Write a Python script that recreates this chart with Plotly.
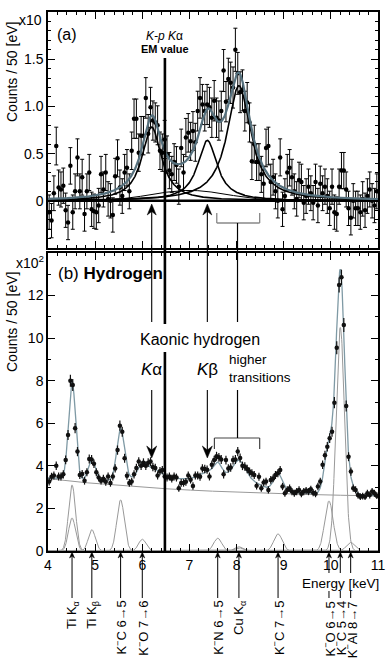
import numpy as np
import plotly.graph_objects as go

# ---------------- data ----------------
bin_start_kev = 4.0
bin_width_kev = 0.05

# panel (a): residual spectrum, counts / 50 eV in units of x10
residual_x10 = [
    -0.12, -0.21, 0.08, 0.58, 0.14, 0.12, 0.16, -0.10, -0.23, 0.37,
    -0.12, 0.10, 0.46, 0.10, 0.25, -0.14, 0.10, 0.30, -0.09, -0.11,
    -0.12, -0.05, 0.28, 0.12, 0.30, 0.02, 0.00, -0.15, 0.26, 0.45,
    0.14, 0.05, 0.30, 0.35, 0.10, 0.53, 0.87, 0.87, 0.51, 0.69,
    0.69, 1.09, 0.71, 0.99, 0.85, 0.83, 0.80, 0.53, 0.51, 0.65,
    0.49, 0.32, 0.28, 0.41, 0.38, 0.15, 0.56, 0.30, 0.67, 0.72,
    0.63, 0.74, 0.62, 0.95, 1.09, 1.02, 0.95, 1.02, 0.99, 0.88,
    1.06, 0.88, 0.85, 0.95, 1.38, 1.05, 1.29, 1.25, 1.20, 1.60,
    1.35, 1.15, 1.17, 0.95, 1.04, 0.83, 0.42, 0.60, 0.41, 0.41,
    0.28, 0.18, 0.56, 0.58, 0.20, 0.25, 0.10, 0.00, 0.46, -0.09,
    0.05, 0.30, 0.35, 0.25, 0.10, 0.02, 0.22, 0.20, -0.02, 0.05,
    0.15, 0.08, -0.02, 0.20, -0.05, 0.18, 0.08, 0.15, 0.05, -0.08,
    0.15, -0.12, -0.14, 0.15, 0.32, 0.32, 0.12, -0.08, -0.18, 0.00,
    -0.08, -0.08, -0.12, 0.02, -0.10, 0.05, 0.12, 0.00, -0.05, 0.10,
]

# panel (b): hydrogen spectrum, counts / 50 eV in units of x10^2
hydrogen_x100 = [
    3.26, 3.49, 3.55, 4.00, 3.50, 3.50, 3.60, 4.28, 5.45, 8.00,
    7.80, 5.77, 4.67, 3.57, 3.62, 3.30, 3.70, 4.32, 4.30, 4.10,
    3.70, 3.45, 3.30, 3.40, 3.25, 3.50, 3.20, 3.50, 3.88, 4.74,
    5.89, 5.60, 4.36, 3.53, 3.20, 3.26, 3.60, 3.90, 4.20, 4.00,
    4.15, 4.00, 4.15, 4.20, 3.95, 3.90, 3.55, 3.75, 3.80, 3.50,
    3.45, 3.50, 3.40, 3.50, 3.45, 2.95, 3.20, 3.20, 3.25, 3.55,
    3.35, 3.05, 3.55, 3.55, 3.49, 3.88, 3.85, 3.82, 3.50, 4.05,
    4.27, 4.45, 4.40, 4.30, 3.60, 4.27, 3.88, 3.92, 4.27, 4.30,
    4.67, 4.37, 4.00, 3.97, 3.85, 3.73, 3.65, 3.57, 3.06, 3.49,
    2.95, 3.22, 3.26, 2.87, 3.34, 3.41, 3.57, 3.65, 3.80, 3.03,
    2.71, 2.87, 2.95, 2.79, 2.71, 2.79, 2.87, 2.69, 2.79, 2.84,
    2.79, 2.90, 2.74, 2.69, 3.03, 3.26, 4.05, 4.50, 4.90, 5.30,
    5.60, 6.97, 9.55, 12.50, 12.86, 10.62, 6.81, 4.43, 3.73, 2.95,
    2.87, 2.63, 2.55, 2.58, 2.55, 2.71, 2.63, 2.79, 2.71, 2.60,
]

# kaonic-hydrogen fit components (Lorentzians)
kp_center_kev = [6.20, 7.38, 8.05]
kp_fwhm_kev = [0.50, 0.50, 0.60]
kp_height_a = [0.78, 0.64, 1.22]     # panel (a), x10
kp_height_b = [0.60, 0.50, 1.00]     # panel (b), x10^2
broad_center_kev = [7.0, 6.5]        # (a), (b)
broad_sigma_kev = [0.80, 1.00]
broad_height = [0.11, 0.30]
em_value_kev = 6.48

# background x-ray lines (Gaussians) and their labels
xray_labels = ["Ti K<sub>α</sub>", "Ti K<sub>β</sub>", "K<sup>−</sup>C 6→5",
               "K<sup>−</sup>O 7→6", "K<sup>−</sup>N 6→5", "Cu K<sub>α</sub>",
               "K<sup>−</sup>C 7→5", "K<sup>−</sup>O 6→5", "K<sup>−</sup>C 5→4",
               "K<sup>−</sup>Al 8→7"]
xray_energy_kev = [4.51, 4.93, 5.54, 6.00, 7.60, 8.05, 8.88, 9.96, 10.20, 10.42]
xray_height_x100 = [3.10, 1.00, 2.40, 0.55, 0.60, 0.20, 0.80, 2.35, 10.50, 0.40]
xray_sigma_kev = [0.075, 0.075, 0.08, 0.08, 0.085, 0.085, 0.09, 0.09, 0.09, 0.09]
extra_center_kev = [4.51, 8.05]
extra_height_x100 = [1.55, 0.15]
extra_sigma_kev = [0.075, 0.10]
bg_params = [2.45, 0.95, 3.6]   # const, amplitude, decay (keV)

# ---------------- geometry helpers ----------------
W, H = 386, 661
ML, MR, MT, MB = 48, 8, 12, 110
PW, PH = W - ML - MR, H - MT - MB
E0, E1 = 4.0, 11.0
KEV_PER_PX = (E1 - E0) / PW


def py(yp):
    return (H - MB - yp) / PH


def px(xp):
    return (xp - ML) / PW


def lor(e, c, fwhm, h):
    return h / (1 + ((e - c) / (fwhm / 2)) ** 2)


def gau(e, c, s, h):
    return h * np.exp(-((e - c) ** 2) / (2 * s ** 2))


n = len(residual_x10)
energy = bin_start_kev + bin_width_kev * (np.arange(n) + 0.5)
res = np.array(residual_x10)
hyd = np.array(hydrogen_x100)
err_a = np.sqrt(3.3 + 1.2 * np.clip(res, 0, None)) / 10
err_b = np.sqrt(hyd * 100) / 100

ec = np.linspace(E0, E1, 1401)
FONT = "Liberation Sans, Arial, sans-serif"

fig = go.Figure()

# ---------- panel (a) ----------
fig.add_trace(go.Scatter(x=energy, y=res, mode="markers",
                         marker=dict(color="black", size=4.5),
                         error_y=dict(type="data", array=err_a, color="black",
                                      thickness=1, width=2),
                         xaxis="x", yaxis="y", showlegend=False))
fig.add_trace(go.Scatter(x=[E0, E1], y=[0, 0], mode="lines",
                         line=dict(color="black", width=2.5),
                         xaxis="x", yaxis="y", showlegend=False))
broad_a = gau(ec, broad_center_kev[0], broad_sigma_kev[0], broad_height[0])
fig.add_trace(go.Scatter(x=ec, y=broad_a, mode="lines",
                         line=dict(color="black", width=1),
                         xaxis="x", yaxis="y", showlegend=False))
total_a = broad_a.copy()
for c, w, h in zip(kp_center_kev, kp_fwhm_kev, kp_height_a):
    comp = lor(ec, c, w, h)
    total_a += comp
    fig.add_trace(go.Scatter(x=ec, y=comp, mode="lines",
                             line=dict(color="black", width=1.6),
                             xaxis="x", yaxis="y", showlegend=False))
fig.add_trace(go.Scatter(x=ec, y=total_a, mode="lines",
                         line=dict(color="#56717e", width=2.2),
                         xaxis="x", yaxis="y", showlegend=False))

# ---------- panel (b) ----------
bg = bg_params[0] + bg_params[1] * np.exp(-(ec - E0) / bg_params[2])
total_b = bg + gau(ec, broad_center_kev[1], broad_sigma_kev[1], broad_height[1])
comps = list(zip(xray_energy_kev, xray_sigma_kev, xray_height_x100)) + \
    list(zip(extra_center_kev, extra_sigma_kev, extra_height_x100))
for c, s, h in comps:
    g = gau(ec, c, s, h)
    total_b = total_b + g
    fig.add_trace(go.Scatter(x=ec, y=g, mode="lines",
                             line=dict(color="#999999", width=1),
                             xaxis="x2", yaxis="y2", showlegend=False))
for c, w, h in zip(kp_center_kev, kp_fwhm_kev, kp_height_b):
    total_b = total_b + lor(ec, c, w, h)
fig.add_trace(go.Scatter(x=ec, y=bg, mode="lines",
                         line=dict(color="#999999", width=1),
                         xaxis="x2", yaxis="y2", showlegend=False))
fig.add_trace(go.Scatter(x=ec, y=total_b, mode="lines",
                         line=dict(color="#7f9aa5", width=1.3),
                         xaxis="x2", yaxis="y2", showlegend=False))
fig.add_trace(go.Scatter(x=energy, y=hyd, mode="markers",
                         marker=dict(color="#111111", size=4.5),
                         error_y=dict(type="data", array=err_b, color="#111111",
                                      thickness=1.2, width=0),
                         xaxis="x2", yaxis="y2", showlegend=False))

# ---------- axes ----------
axis_common = dict(showline=True, linecolor="black", linewidth=1.5, mirror="ticks",
                   ticks="inside", tickcolor="black", showgrid=False, zeroline=False,
                   automargin=False,
                   tickfont=dict(family=FONT, size=14, color="black"))
xa = dict(axis_common, range=[E0, E1], tick0=4, dtick=1, ticklen=7,
          minor=dict(dtick=0.2, ticklen=3.5, ticks="inside", tickcolor="black"))
fig.update_layout(
    xaxis=dict(xa, anchor="y", showticklabels=False),
    yaxis=dict(axis_common, domain=[py(248), 1.0], range=[-0.5, 2.0], anchor="x",
               tickvals=[0, 0.5, 1.0, 1.5], ticktext=["0", "0.5", "1.0", "1.5"],
               ticklen=7, minor=dict(dtick=0.1, ticklen=3.5, ticks="inside",
                                     tickcolor="black")),
    xaxis2=dict(xa, anchor="y2", tickvals=list(range(4, 12)),
                ticktext=[str(v) for v in range(4, 12)]),
    yaxis2=dict(axis_common, domain=[0, py(253)], range=[0, 14], anchor="x2",
                tickvals=list(range(0, 13, 2)), ticklen=7,
                minor=dict(dtick=1, ticklen=3.5, ticks="inside", tickcolor="black")),
)

# ---------- shapes ----------
shapes = []


def vline(x, y0p, y1p, width=1, color="black"):
    shapes.append(dict(type="line", xref="x2", yref="paper", x0=x, x1=x,
                       y0=py(y0p), y1=py(y1p), line=dict(color=color, width=width)))


def hline(xa0, xa1, yp, width=1, color="black"):
    shapes.append(dict(type="line", xref="x2", yref="paper", x0=xa0, x1=xa1,
                       y0=py(yp), y1=py(yp), line=dict(color=color, width=width)))


def arrowhead(e, tip_yp, up=True, half_w=4.5, length=11, notch=7.5):
    s = 1 if up else -1
    pts = [(0, 0), (-half_w, s * length), (0, s * notch), (half_w, s * length)]
    path = "M " + " L ".join(
        f"{e + dx * KEV_PER_PX:.5f},{py(tip_yp + dy):.5f}" for dx, dy in pts) + " Z"
    shapes.append(dict(type="path", xref="x2", yref="paper", path=path,
                       fillcolor="black", line=dict(color="black", width=0.5)))


# EM value line
vline(em_value_kev, 58, 324, width=2.6)
vline(em_value_kev, 352, 551, width=2.6)
# arrows Ka / Kb
for e in kp_center_kev[:2]:
    vline(e, 210, 322, width=1.1)
    arrowhead(e, 204, up=True)
    vline(e, 390, 452, width=1.1)
    arrowhead(e, 458, up=False, half_w=5, length=12, notch=8)
# higher transitions bracket (a)
hi_lo, hi_hi, hi_mid = 7.58, 8.49, 8.02
hline(hi_lo, hi_hi, 223, color="#888888", width=1.3)
vline(hi_lo, 213, 223, color="#888888", width=1.3)
vline(hi_hi, 213, 223, color="#888888", width=1.3)
vline(hi_mid, 223, 322, width=1.2)
# higher transitions bracket (b)
hline(7.53, hi_hi, 438, color="#444444", width=1.2)
vline(7.53, 438, 449, color="#444444", width=1.2)
vline(hi_hi, 438, 449, color="#444444", width=1.2)
vline(hi_mid, 390, 438, width=1.2)
# label lines below the axis with small arrowheads
for e in xray_energy_kev:
    arrowhead(e, 552, up=True, half_w=2.5, length=6, notch=4)
    if e > 9.5:
        vline(e, 556, 573, width=1)
        vline(e, 591, 598, width=1)
    else:
        vline(e, 556, 598, width=1)
fig.update_layout(shapes=shapes)

# ---------- annotations ----------
ann = []


def text(x, yp, s, size=14, xref="paper", xanchor="center", **kw):
    ann.append(dict(x=x, y=py(yp), xref=xref, yref="paper", text=s, showarrow=False,
                    xanchor=xanchor, yanchor="middle",
                    font=dict(family=FONT, size=size, color="black"), **kw))


text(px(12), 72, "Counts / 50 [eV]", size=14, textangle=-90)
text(px(12), 322, "Counts / 50 [eV]", size=14, textangle=-90)
text(px(30), 20, "x10", size=14)
text(px(30), 262, "x10<sup>2</sup>", size=14)
text(px(55), 34, "(a)", size=16, xanchor="left")
text(px(56), 273, "(b) <b>Hydrogen</b>", size=17, xanchor="left")
text(em_value_kev, 36, "<i>K-p K</i>α", size=12, xref="x2")
text(em_value_kev, 49, "<b>EM value</b>", size=11, xref="x2")
text(7.22, 339, "Kaonic hydrogen", size=16, xref="x2")
text(kp_center_kev[0], 369, "<i>K</i>α", size=17, xref="x2")
text(kp_center_kev[1], 369, "<i>K</i>β", size=17, xref="x2")
text(7.8, 368, "higher<br>transitions", size=13.5, xref="x2", xanchor="left",
     align="left")
text(px(381), 583, "Energy [keV]", size=13.5, xanchor="right")

for lab, e in zip(xray_labels, xray_energy_kev):
    ann.append(dict(x=e, y=py(599), xref="x2", yref="paper", text=lab,
                    showarrow=False, textangle=-90, xanchor="center", yanchor="top",
                    font=dict(family=FONT, size=13, color="black")))

fig.update_layout(annotations=ann)

fig.update_layout(
    width=W, height=H,
    margin=dict(l=ML, r=MR, t=MT, b=MB),
    paper_bgcolor="white", plot_bgcolor="white",
    font=dict(family=FONT, color="black"),
    showlegend=False,
)

fig.write_html("out.html",
               config={"displayModeBar": False},
               post_script="document.body.style.margin='0px';"
                           "document.body.style.overflow='hidden';")
